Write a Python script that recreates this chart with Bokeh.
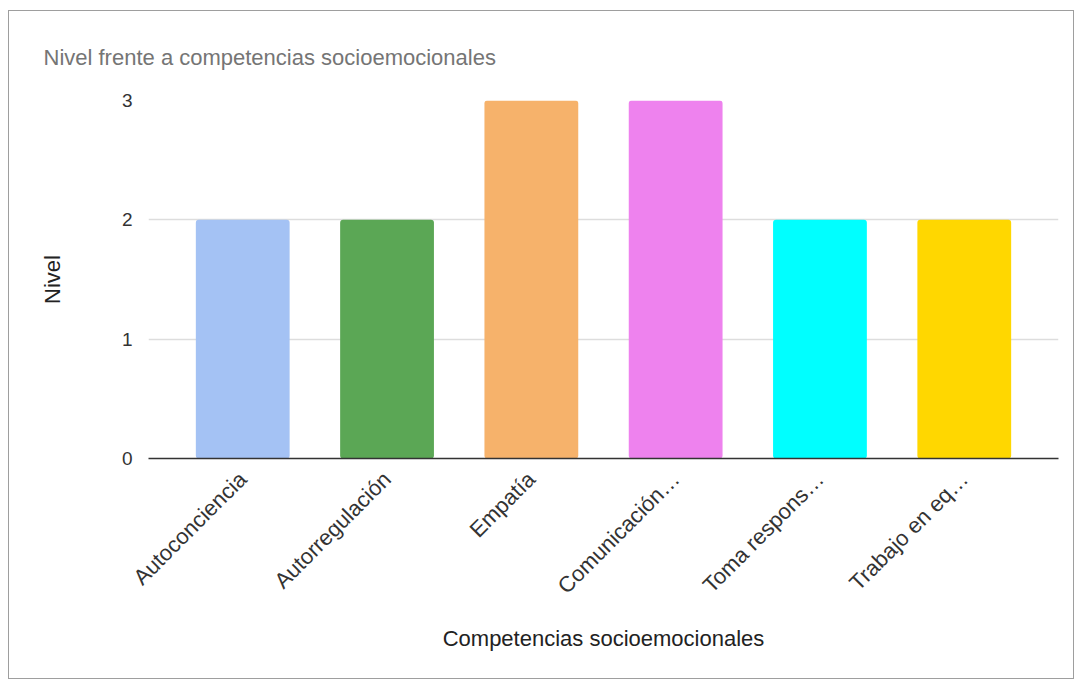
from bokeh.plotting import figure
from bokeh.models import ColumnDataSource, FactorRange, FixedTicker
from bokeh.embed import file_html
from bokeh.resources import INLINE
from math import pi

categories = ["Autoconciencia", "Autorregulación", "Empatía", "Comunicación…", "Toma respons…", "Trabajo en eq…"]
nivel = [2, 2, 3, 3, 2, 2]
colors = ["#a4c2f4", "#5ba755", "#f6b26b", "#ee82ee", "#00ffff", "#ffd700"]
y_ticks = [0, 1, 2, 3]

FONT = "Liberation Sans"
W, H = 1066, 669

src = ColumnDataSource(dict(cat=categories, val=nivel, color=colors))

p = figure(width=W, height=H, output_backend="svg", toolbar_location=None,
           x_range=FactorRange(*categories, range_padding=0.153, range_padding_units="absolute"),
           y_range=(0, 3),
           min_border_left=139, min_border_right=17, min_border_top=89, min_border_bottom=222)
p.styles = {"border": "1px solid #9e9e9e", "margin-top": "10px", "margin-left": "8px"}
p.outline_line_color = None

p.vbar(x="cat", top="val", width=0.65, source=src, fill_color="color", line_color=None, border_radius=3)

p.yaxis.ticker = FixedTicker(ticks=y_ticks)
p.ygrid.grid_line_color = "#dddddd"
p.ygrid.grid_line_width = 1.5
p.xgrid.grid_line_color = None
p.yaxis.axis_line_color = None
p.yaxis.major_tick_line_color = None
p.yaxis.minor_tick_line_color = None
p.yaxis.major_label_text_font = FONT
p.yaxis.major_label_text_font_size = "19px"
p.yaxis.major_label_text_color = "#333333"
p.yaxis.major_label_standoff = 10
p.yaxis.axis_label = "Nivel"
p.yaxis.axis_label_text_font = FONT
p.yaxis.axis_label_text_font_size = "22px"
p.yaxis.axis_label_text_font_style = "normal"
p.yaxis.axis_label_text_color = "#222222"
p.yaxis.axis_label_standoff = 54

p.xaxis.axis_line_color = "#333333"
p.xaxis.axis_line_width = 1.5
p.xaxis.major_tick_line_color = None
p.xaxis.minor_tick_line_color = None
p.xaxis.major_label_orientation = pi / 4
p.xaxis.major_label_text_font = FONT
p.xaxis.major_label_text_font_size = "22px"
p.xaxis.major_label_text_color = "#333333"
p.xaxis.major_label_standoff = 11
p.xaxis.axis_label = "Competencias socioemocionales"
p.xaxis.axis_label_text_font = FONT
p.xaxis.axis_label_text_font_size = "22px"
p.xaxis.axis_label_text_font_style = "normal"
p.xaxis.axis_label_text_color = "#222222"
p.xaxis.axis_label_standoff = 16

p.title.text = "Nivel frente a competencias socioemocionales"
p.title.align = "left"
p.title.offset = -105
p.title.standoff = 62
p.title.text_font = FONT
p.title.text_font_size = "22px"
p.title.text_font_style = "normal"
p.title.text_color = "#757575"

open("out.html", "w").write(file_html(p, INLINE))
